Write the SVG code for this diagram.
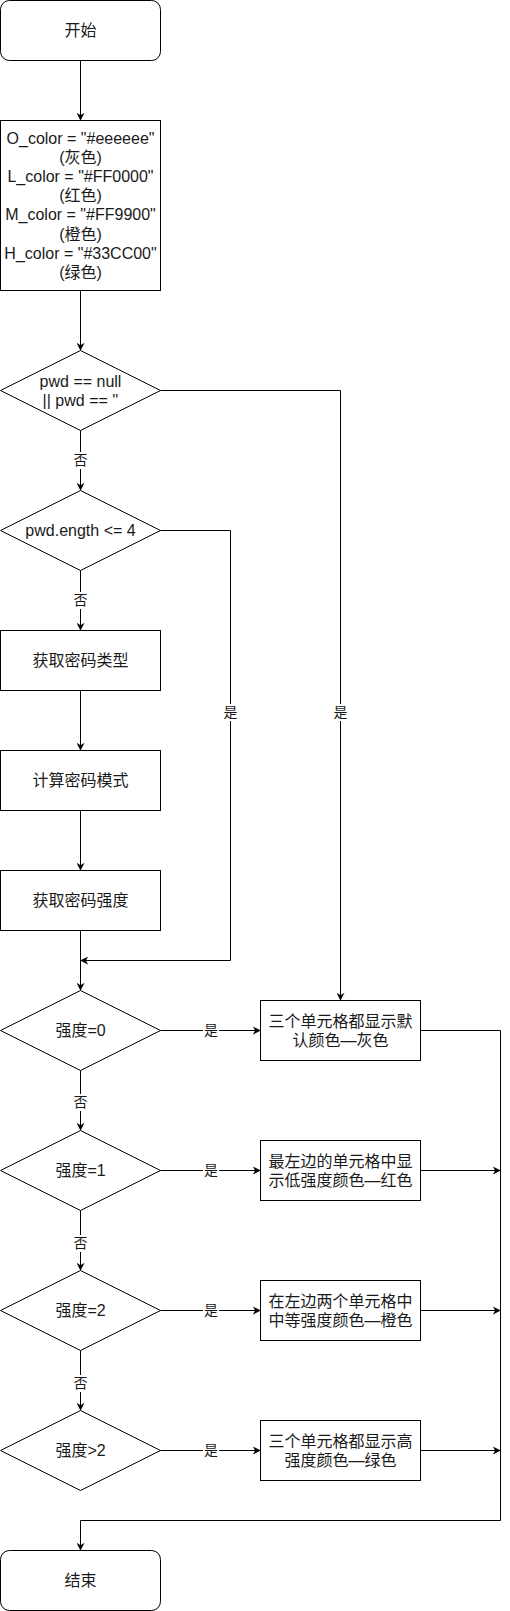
<svg xmlns="http://www.w3.org/2000/svg" width="510" height="1611" viewBox="0 0 510 1611">
<style>
.n{fill:#ffffff;stroke:#000000;stroke-width:1}
.t{font-family:"Liberation Sans","Noto Sans CJK SC",sans-serif;font-size:16px;fill:#1a1a1a;text-anchor:middle}
.l{font-family:"Liberation Sans","Noto Sans CJK SC",sans-serif;font-size:14px;fill:#1a1a1a;text-anchor:middle}
.e{fill:none;stroke:#000000;stroke-width:1}
.a{marker-end:url(#arr)}
.lb{fill:#ffffff;stroke:none}
</style>
<defs>
<marker id="arr" viewBox="0 0 10 10" markerWidth="8" markerHeight="8" refX="9" refY="5" orient="auto" markerUnits="userSpaceOnUse">
<path d="M0,0 L10,5 L0,10 L3,5 z" fill="#000000"/>
</marker>
</defs>
<rect width="510" height="1611" fill="#ffffff"/>

<g id="connectors">
<path class="e a" d="M80.5,60.5 L80.5,120"/>
<path class="e a" d="M80.5,290.5 L80.5,350"/>
<path class="e a" d="M80.5,430.5 L80.5,490"/>
<path class="e a" d="M160.5,390.5 L340.5,390.5 L340.5,1000"/>
<path class="e a" d="M80.5,570.5 L80.5,630"/>
<path class="e a" d="M160.5,530.5 L230.5,530.5 L230.5,960.5 L81,960.5"/>
<path class="e a" d="M80.5,690.5 L80.5,750"/>
<path class="e a" d="M80.5,810.5 L80.5,870"/>
<path class="e a" d="M80.5,930.5 L80.5,990"/>
<path class="e a" d="M160.5,1030.5 L260,1030.5"/>
<path class="e a" d="M80.5,1070.5 L80.5,1130"/>
<path class="e a" d="M160.5,1170.5 L260,1170.5"/>
<path class="e a" d="M80.5,1210.5 L80.5,1270"/>
<path class="e a" d="M160.5,1310.5 L260,1310.5"/>
<path class="e a" d="M80.5,1350.5 L80.5,1410"/>
<path class="e a" d="M160.5,1450.5 L260,1450.5"/>
<path class="e a" d="M420.5,1030.5 L500.5,1030.5 L500.5,1520.5 L80.5,1520.5 L80.5,1550"/>
<path class="e a" d="M420.5,1170.5 L500,1170.5"/>
<path class="e a" d="M420.5,1310.5 L500,1310.5"/>
<path class="e a" d="M420.5,1450.5 L500,1450.5"/>
<g id="labels">
<rect class="lb" x="73" y="452" width="15" height="17"/><text class="l" x="80.5" y="465">否</text>
<rect class="lb" x="73" y="592" width="15" height="17"/><text class="l" x="80.5" y="605">否</text>
<rect class="lb" x="223" y="704" width="15" height="17"/><text class="l" x="230.5" y="717">是</text>
<rect class="lb" x="333" y="704" width="15" height="17"/><text class="l" x="340.5" y="717">是</text>
<rect class="lb" x="203" y="1022" width="16" height="17"/><text class="l" x="211" y="1035">是</text>
<rect class="lb" x="73" y="1094" width="15" height="17"/><text class="l" x="80.5" y="1107">否</text>
<rect class="lb" x="203" y="1162" width="16" height="17"/><text class="l" x="211" y="1175">是</text>
<rect class="lb" x="73" y="1235" width="15" height="17"/><text class="l" x="80.5" y="1248">否</text>
<rect class="lb" x="203" y="1302" width="16" height="17"/><text class="l" x="211" y="1315">是</text>
<rect class="lb" x="73" y="1375" width="15" height="17"/><text class="l" x="80.5" y="1388">否</text>
<rect class="lb" x="203" y="1442" width="16" height="17"/><text class="l" x="211" y="1455">是</text>
</g>
</g>

<g id="start">
<rect class="n" x="0.5" y="0.5" width="160" height="60" rx="9" ry="9"/>
<text class="t" x="80.5" y="36">开始</text>
</g>

<g id="vars">
<rect class="n" x="0.5" y="120.5" width="160" height="170"/>
<text class="t" x="80.5" y="143.5">O_color = "#eeeeee"</text>
<text class="t" x="80.5" y="162.7">(灰色)</text>
<text class="t" x="80.5" y="181.9">L_color = "#FF0000"</text>
<text class="t" x="80.5" y="201.1">(红色)</text>
<text class="t" x="80.5" y="220.3">M_color = "#FF9900"</text>
<text class="t" x="80.5" y="239.5">(橙色)</text>
<text class="t" x="80.5" y="258.7">H_color = "#33CC00"</text>
<text class="t" x="80.5" y="277.9">(绿色)</text>
</g>

<g id="d_null">
<path class="n" d="M80.5,350.5 L160.5,390.5 L80.5,430.5 L0.5,390.5 Z"/>
<text class="t" x="80.5" y="386.5">pwd == null</text>
<text class="t" x="80.5" y="405.7">|| pwd == ''</text>
</g>

<g id="d_len">
<path class="n" d="M80.5,490.5 L160.5,530.5 L80.5,570.5 L0.5,530.5 Z"/>
<text class="t" x="80.5" y="536">pwd.ength &lt;= 4</text>
</g>

<g id="get_type">
<rect class="n" x="0.5" y="630.5" width="160" height="60"/>
<text class="t" x="80.5" y="666">获取密码类型</text>
</g>

<g id="calc_mode">
<rect class="n" x="0.5" y="750.5" width="160" height="60"/>
<text class="t" x="80.5" y="786">计算密码模式</text>
</g>

<g id="get_strength">
<rect class="n" x="0.5" y="870.5" width="160" height="60"/>
<text class="t" x="80.5" y="906">获取密码强度</text>
</g>

<g id="d_s0">
<path class="n" d="M80.5,990.5 L160.5,1030.5 L80.5,1070.5 L0.5,1030.5 Z"/>
<text class="t" x="80.5" y="1036">强度=0</text>
</g>

<g id="d_s1">
<path class="n" d="M80.5,1130.5 L160.5,1170.5 L80.5,1210.5 L0.5,1170.5 Z"/>
<text class="t" x="80.5" y="1176">强度=1</text>
</g>

<g id="d_s2">
<path class="n" d="M80.5,1270.5 L160.5,1310.5 L80.5,1350.5 L0.5,1310.5 Z"/>
<text class="t" x="80.5" y="1316">强度=2</text>
</g>

<g id="d_s3">
<path class="n" d="M80.5,1410.5 L160.5,1450.5 L80.5,1490.5 L0.5,1450.5 Z"/>
<text class="t" x="80.5" y="1456">强度&gt;2</text>
</g>

<g id="b_gray">
<rect class="n" x="260.5" y="1000.5" width="160" height="60"/>
<text class="t" x="340.5" y="1026.5">三个单元格都显示默</text>
<text class="t" x="340.5" y="1045.7">认颜色—灰色</text>
</g>

<g id="b_red">
<rect class="n" x="260.5" y="1140.5" width="160" height="60"/>
<text class="t" x="340.5" y="1166.5">最左边的单元格中显</text>
<text class="t" x="340.5" y="1185.7">示低强度颜色—红色</text>
</g>

<g id="b_orange">
<rect class="n" x="260.5" y="1280.5" width="160" height="60"/>
<text class="t" x="340.5" y="1306.5">在左边两个单元格中</text>
<text class="t" x="340.5" y="1325.7">中等强度颜色—橙色</text>
</g>

<g id="b_green">
<rect class="n" x="260.5" y="1420.5" width="160" height="60"/>
<text class="t" x="340.5" y="1446.5">三个单元格都显示高</text>
<text class="t" x="340.5" y="1465.7">强度颜色—绿色</text>
</g>

<g id="end">
<rect class="n" x="0.5" y="1550.5" width="160" height="60" rx="9" ry="9"/>
<text class="t" x="80.5" y="1586">结束</text>
</g>
</svg>
